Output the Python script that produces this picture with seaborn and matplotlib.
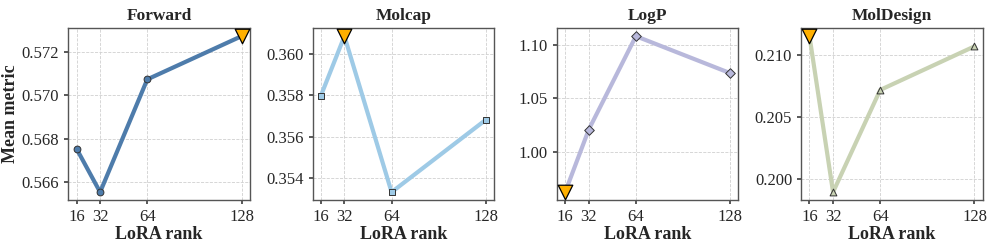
import matplotlib
matplotlib.use("Agg")
import matplotlib.pyplot as plt
import matplotlib.ticker as mticker
import seaborn as sns
import pandas as pd

ranks = [16, 32, 64, 128]
forward = [0.56753, 0.56552, 0.57074, 0.57274]
molcap = [0.35798, 0.36087, 0.35331, 0.35682]
logp = [0.9631, 1.0211, 1.1078, 1.0735]
moldesign = [0.21152, 0.19896, 0.20719, 0.21070]

titles = ["Forward", "Molcap", "LogP", "MolDesign"]
series = [forward, molcap, logp, moldesign]
colors = ["#4e7cab", "#9ecae6", "#b8b8db", "#c8d2b3"]
markers = ["o", "s", "D", "^"]
best_idx = [3, 1, 0, 0]  # LogP: lower is better
steps = [0.002, 0.002, 0.05, 0.005]

sns.set_theme(style="ticks")
plt.rcParams["font.family"] = ["Liberation Serif", "DejaVu Serif"]

fig, axes = plt.subplots(1, 4, figsize=(9.97, 2.49), dpi=100)
fig.subplots_adjust(left=0.0685, right=0.9857, top=0.886, bottom=0.197, wspace=0.346)

for ax, title, vals, c, m, b, st in zip(axes, titles, series, colors, markers, best_idx, steps):
    df = pd.DataFrame({"rank": ranks, "value": vals})
    sns.lineplot(data=df, x="rank", y="value", ax=ax, color=c, linewidth=3, zorder=2)
    rest = df.drop(index=b)
    sns.scatterplot(data=rest, x="rank", y="value", ax=ax, color=c, marker=m,
                    s=24, edgecolor="#333333", linewidth=0.7, zorder=3)
    sns.scatterplot(data=df.iloc[[b]], x="rank", y="value", ax=ax, color="#ffb000", marker="v",
                    s=110, edgecolor="black", linewidth=0.9, zorder=4)
    ax.set_title(title, fontsize=12.5, fontweight="bold", pad=6)
    ax.set_xticks(ranks)
    ax.set_xticklabels([str(r) for r in ranks])
    ax.yaxis.set_major_locator(mticker.MultipleLocator(st))
    ax.tick_params(labelsize=12, length=3, color="#444444")
    ax.grid(True, linestyle="--", linewidth=0.6, color="#d0d0d0")
    ax.set_axisbelow(True)
    for sp in ax.spines.values():
        sp.set_color("#555555")
        sp.set_linewidth(1.0)
    ax.set_xlabel("LoRA rank", fontsize=13, fontweight="bold", labelpad=1)
    ax.set_ylabel("")

axes[0].set_ylabel("Mean metric", fontsize=13, fontweight="bold", labelpad=2)

fig.savefig("out.png", dpi=100)
